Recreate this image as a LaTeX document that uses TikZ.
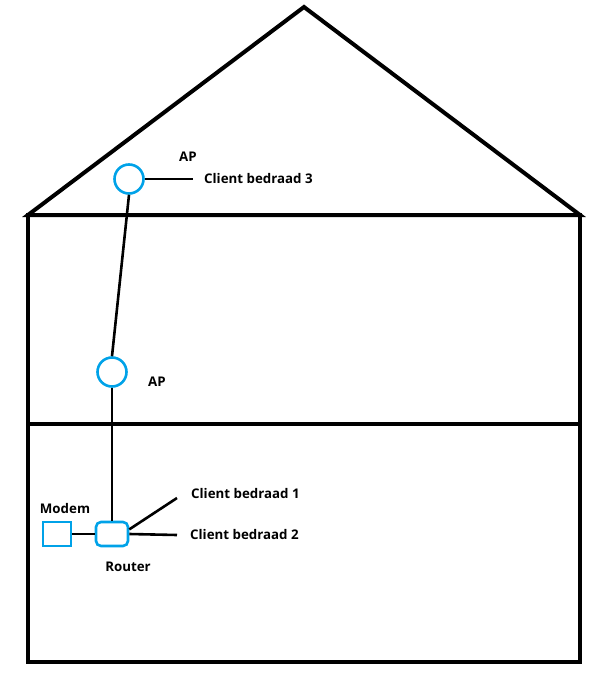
\documentclass[tikz,border=0pt]{standalone}
\usepackage{fontspec}
\setmainfont{Open Sans}
\usetikzlibrary{calc}
\definecolor{netblue}{RGB}{0,162,232}
\tikzset{>=latex}
\tikzset{
  wall/.style={line width=4pt, line join=miter},
  wire/.style={line width=2.6pt},
  apnode/.style={circle, draw=netblue, line width=2.6pt, minimum size=29pt, inner sep=0pt},
  modembox/.style={rectangle, draw=netblue, line width=2.6pt, minimum width=28pt, minimum height=24pt, inner sep=0pt},
  routerbox/.style={rectangle, rounded corners=5pt, draw=netblue, line width=2.6pt, minimum width=32pt, minimum height=24pt, inner sep=0pt},
  lbl/.style={font=\fontsize{13.3}{15}\selectfont\bfseries, inner sep=0pt}
}

\begin{document}
\begin{tikzpicture}[x=1pt,y=-1pt]
    \useasboundingbox (0,0) rectangle (597,677);
	% house
	\draw[wall] (28,215) -- (304,7) -- (580,215) -- cycle;
	\draw[wall] (28,215) rectangle (580,662);
	\draw[wall] (28,424) -- (580,424);
	% devices
	\node[apnode] (ap1) at (129,179) {};
	\node[apnode] (ap2) at (112,372) {};
	\node[routerbox] (router) at (112,534) {};
	\node[modembox] (modem) at (57,534) {};
	% labels
	\node[lbl] (ap1lbl) at (188,157) {AP};
	\node[lbl] (ap2lbl) at (157,382) {AP};
	\node[lbl] (modemlbl) at (65,509) {Modem};
	\node[lbl] (routerlbl) at (128,567) {Router};
	\node[lbl, anchor=west] (client1) at (191,494) {Client bedraad 1};
	\node[lbl, anchor=west] (client2) at (190,535) {Client bedraad 2};
	\node[lbl, anchor=west] (client3) at (204,179) {Client bedraad 3};
	% cables
	\draw[wire] (ap1.south) -- (ap2.north);
	\draw[wire] (ap2.south) -- (router.north);
	\draw[wire] (modem.east) -- (router.west);
	\draw[wire] (router.15) -- ($(client1.west)+(-14,4)$);
	\draw[wire] (router.east) -- ($(client2.west)+(-13,0)$);
	\draw[wire] (ap1.east) -- ($(client3.west)+(-11,0)$);
\end{tikzpicture}
\end{document}
